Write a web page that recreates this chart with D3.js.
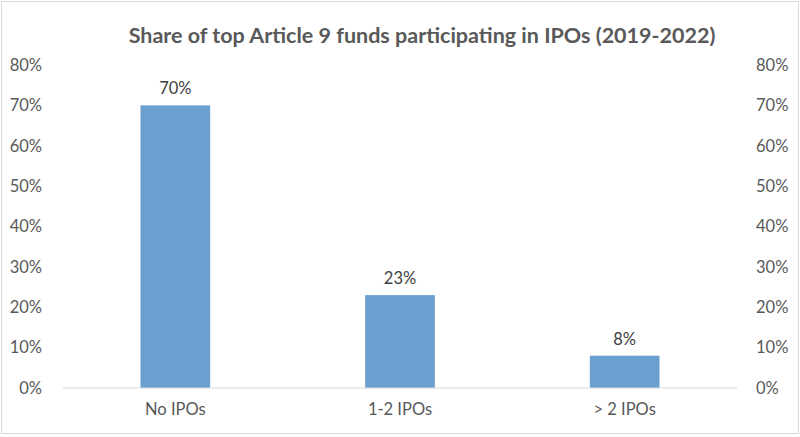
<!DOCTYPE html>
<html>
<head>
<meta charset="utf-8">
<script src="https://cdn.jsdelivr.net/npm/d3@7"></script>
<style>
  body { margin: 0; background: #fff; }
  svg text { font-family: Lato, "Open Sans", sans-serif; }
</style>
</head>
<body>
<div id="chart"></div>
<script>
const categories = ["No IPOs", "1-2 IPOs", "> 2 IPOs"];
const shares = [0.70, 0.23, 0.08];
const yTicks = [0, 0.1, 0.2, 0.3, 0.4, 0.5, 0.6, 0.7, 0.8];
const title = "Share of top Article 9 funds participating in IPOs (2019-2022)";

const width = 800;
const height = 437;
const margin = { top: 65, right: 63, bottom: 49, left: 63 };

const svg = d3.select("#chart")
  .append("svg")
  .attr("width", width)
  .attr("height", height);

// chart border
svg.append("rect")
  .attr("x", 1.5)
  .attr("y", 1.5)
  .attr("width", width - 3)
  .attr("height", height - 5)
  .attr("fill", "#fff")
  .attr("stroke", "#d9d9d9");

const data = categories.map((c, i) => ({ cat: c, value: shares[i] }));

const x = d3.scaleBand()
  .domain(categories)
  .range([margin.left, width - margin.right])
  .paddingInner(0.69)
  .paddingOuter(0.345);

const y = d3.scaleLinear()
  .domain([0, 0.8])
  .range([height - margin.bottom, margin.top]);

const fmt = d3.format(".0%");

svg.append("text")
  .attr("x", 422)
  .attr("y", 43)
  .attr("text-anchor", "middle")
  .attr("fill", "#595959")
  .style("font-size", "21.5px")
  .style("font-weight", "bold")
  .text(title);

// left axis
const yLeft = svg.append("g")
  .attr("transform", `translate(${margin.left - 18}, 0)`)
  .call(d3.axisLeft(y).tickValues(yTicks).tickFormat(fmt).tickSize(0));
yLeft.select(".domain").remove();
yLeft.selectAll("text")
  .attr("fill", "#595959")
  .style("font-size", "16.5px");

// right axis
const yRight = svg.append("g")
  .attr("transform", `translate(${width - margin.right + 16}, 0)`)
  .call(d3.axisRight(y).tickValues(yTicks).tickFormat(fmt).tickSize(0));
yRight.select(".domain").remove();
yRight.selectAll("text")
  .attr("fill", "#595959")
  .style("font-size", "16.5px");

svg.selectAll(".bar")
  .data(data)
  .enter()
  .append("rect")
  .attr("class", "bar")
  .attr("x", d => x(d.cat))
  .attr("y", d => y(d.value))
  .attr("width", x.bandwidth())
  .attr("height", d => y(0) - y(d.value))
  .attr("fill", "#6a9fcf");

svg.selectAll(".label")
  .data(data)
  .enter()
  .append("text")
  .attr("class", "label")
  .attr("x", d => x(d.cat) + x.bandwidth() / 2)
  .attr("y", d => y(d.value) - 11)
  .attr("text-anchor", "middle")
  .attr("fill", "#404040")
  .style("font-size", "16.5px")
  .text(d => fmt(d.value));

// baseline
svg.append("line")
  .attr("x1", margin.left)
  .attr("x2", width - margin.right)
  .attr("y1", y(0))
  .attr("y2", y(0))
  .attr("stroke", "#d9d9d9")
  .attr("stroke-width", 1);

const xAxis = svg.append("g")
  .attr("transform", `translate(0, ${y(0) + 12})`)
  .call(d3.axisBottom(x).tickSize(0));
xAxis.select(".domain").remove();
xAxis.selectAll("text")
  .attr("fill", "#595959")
  .style("font-size", "16.5px");
</script>
</body>
</html>
